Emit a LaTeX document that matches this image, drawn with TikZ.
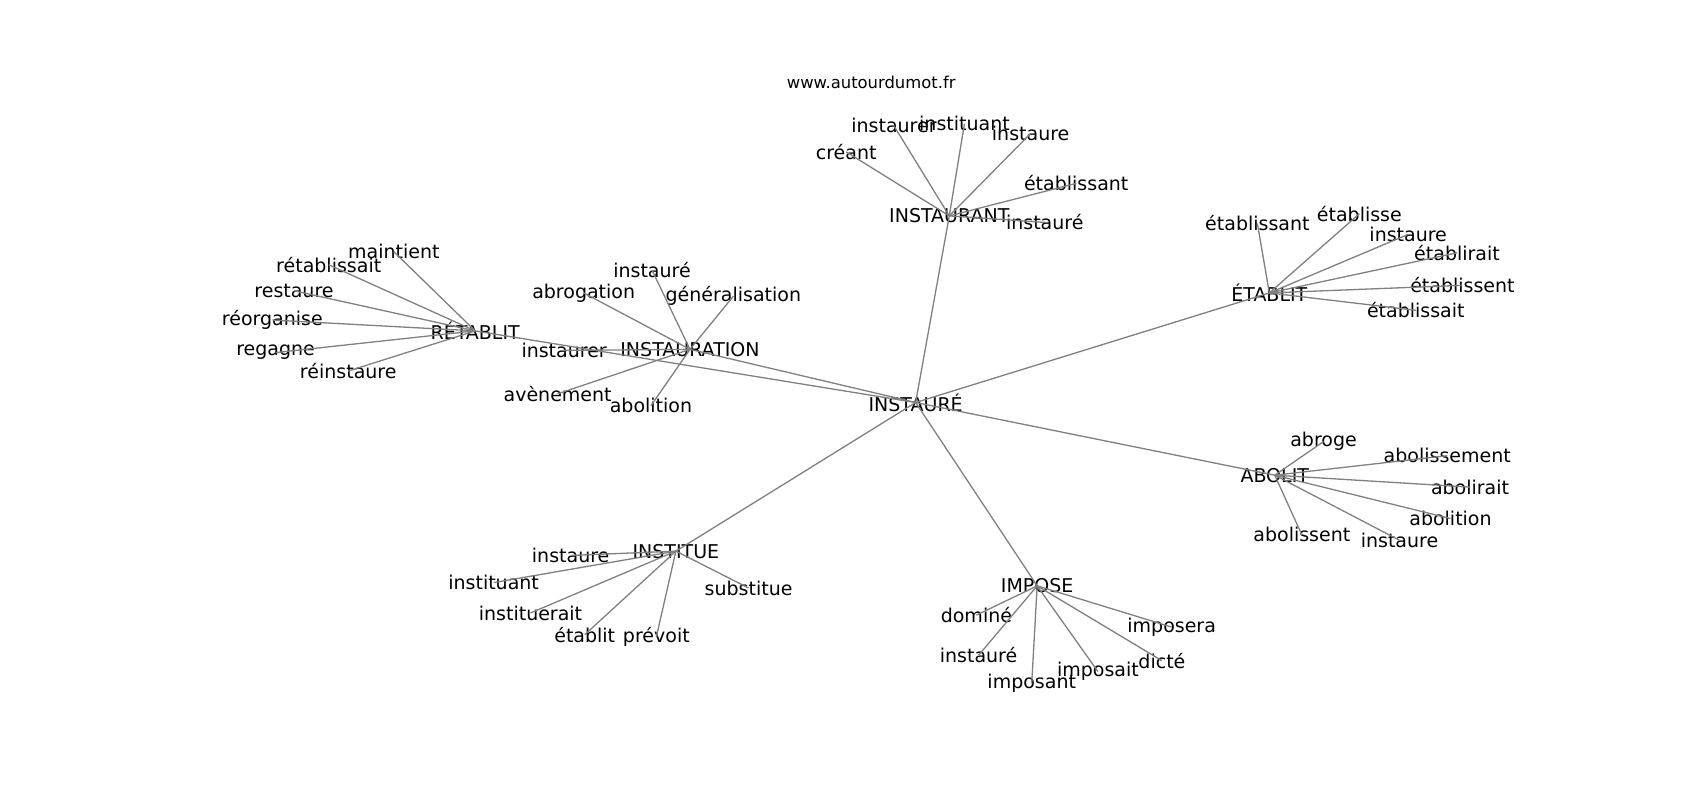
\documentclass[tikz,border=0pt]{standalone}
\usepackage{fontspec}
\setmainfont{DejaVu Sans}
\usepackage{tikz}
\usetikzlibrary{positioning}

\tikzset{
    word/.style={inner sep=0pt, text centered, font=\fontsize{9.5}{11}\selectfont},
    site/.style={inner sep=0pt, text centered, font=\fontsize{8.2}{10}\selectfont},
    link/.style={draw=gray, line width=0.65pt}
}

\begin{document}
\begin{tikzpicture}[x=0.5425pt, y=-0.5425pt]
    \useasboundingbox (0,0) rectangle (1567,737.3);

    % Source
    \node (site) [site] at (803,76) {www.autourdumot.fr};

    % Hubs
    \node (instaure) [word] at (844,371) {INSTAURÉ};
    \node (instaurant) [word] at (875,199) {INSTAURANT};
    \node (etablit) [word] at (1170,270) {ÉTABLIT};
    \node (abolit) [word] at (1175,438) {ABOLIT};
    \node (impose) [word] at (956,540) {IMPOSE};
    \node (institue) [word] at (623,508) {INSTITUE};
    \node (instauration) [word] at (636,322) {INSTAURATION};
    \node (retablit) [word] at (438,305) {RÉTABLIT};

    % Words around INSTAURANT
    \node (ia-creant) [word] at (780,140) {créant};
    \node (ia-instaurer) [word] at (824,116) {instaurer};
    \node (ia-instituant) [word] at (889,114) {instituant};
    \node (ia-instaure) [word] at (950,123) {instaure};
    \node (ia-etablissant) [word] at (992,169) {établissant};
    \node (ia-instaure2) [word] at (963,205) {instauré};

    % Words around ETABLIT
    \node (et-etablissant) [word] at (1159,206) {établissant};
    \node (et-etablisse) [word] at (1253,197) {établisse};
    \node (et-instaure) [word] at (1298,216) {instaure};
    \node (et-etablirait) [word] at (1343,233) {établirait};
    \node (et-etablissent) [word] at (1348,263) {établissent};
    \node (et-etablissait) [word] at (1305,286) {établissait};

    % Words around ABOLIT
    \node (ab-abroge) [word] at (1220,407) {abroge};
    \node (ab-abolissement) [word] at (1334,420) {abolissement};
    \node (ab-abolirait) [word] at (1355,449) {abolirait};
    \node (ab-abolition) [word] at (1337,478) {abolition};
    \node (ab-instaure) [word] at (1290,498) {instaure};
    \node (ab-abolissent) [word] at (1200,493) {abolissent};

    % Words around IMPOSE
    \node (im-domine) [word] at (900,567) {dominé};
    \node (im-instaure) [word] at (902,604) {instauré};
    \node (im-imposant) [word] at (951,630) {imposant};
    \node (im-imposait) [word] at (1012,619) {imposait};
    \node (im-dicte) [word] at (1071,609) {dicté};
    \node (im-imposera) [word] at (1080,578) {imposera};

    % Words around INSTITUE
    \node (in-instaure) [word] at (526,512) {instaure};
    \node (in-instituant) [word] at (455,537) {instituant};
    \node (in-instituerait) [word] at (489,565) {instituerait};
    \node (in-etablit) [word] at (539,585) {établit};
    \node (in-prevoit) [word] at (605,587) {prévoit};
    \node (in-substitue) [word] at (690,542) {substitue};

    % Words around INSTAURATION
    \node (io-instaure) [word] at (601,249) {instauré};
    \node (io-abrogation) [word] at (538,270) {abrogation};
    \node (io-generalisation) [word] at (676,273) {généralisation};
    \node (io-instaurer) [word] at (520,323) {instaurer};
    \node (io-avenement) [word] at (514,363) {avènement};
    \node (io-abolition) [word] at (600,374) {abolition};

    % Words around RETABLIT
    \node (re-maintient) [word] at (363,232) {maintient};
    \node (re-retablissait) [word] at (303,244) {rétablissait};
    \node (re-restaure) [word] at (271,268) {restaure};
    \node (re-reorganise) [word] at (251,295) {réorganise};
    \node (re-regagne) [word] at (254,325) {regagne};
    \node (re-reinstaure) [word] at (321,342) {réinstaure};

    % Edges from the centre
    \foreach \hub in {instaurant, etablit, abolit, impose, institue, instauration, retablit}
        \draw[link] (instaure.center) -- (\hub.center);

    % Edges to the words
    \foreach \leaf in {creant, instaurer, instituant, instaure, etablissant, instaure2}
        \draw[link] (instaurant.center) -- (ia-\leaf.center);
    \foreach \leaf in {etablissant, etablisse, instaure, etablirait, etablissent, etablissait}
        \draw[link] (etablit.center) -- (et-\leaf.center);
    \foreach \leaf in {abroge, abolissement, abolirait, abolition, instaure, abolissent}
        \draw[link] (abolit.center) -- (ab-\leaf.center);
    \foreach \leaf in {domine, instaure, imposant, imposait, dicte, imposera}
        \draw[link] (impose.center) -- (im-\leaf.center);
    \foreach \leaf in {instaure, instituant, instituerait, etablit, prevoit, substitue}
        \draw[link] (institue.center) -- (in-\leaf.center);
    \foreach \leaf in {instaure, abrogation, generalisation, instaurer, avenement, abolition}
        \draw[link] (instauration.center) -- (io-\leaf.center);
    \foreach \leaf in {maintient, retablissait, restaure, reorganise, regagne, reinstaure}
        \draw[link] (retablit.center) -- (re-\leaf.center);

\end{tikzpicture}
\end{document}
